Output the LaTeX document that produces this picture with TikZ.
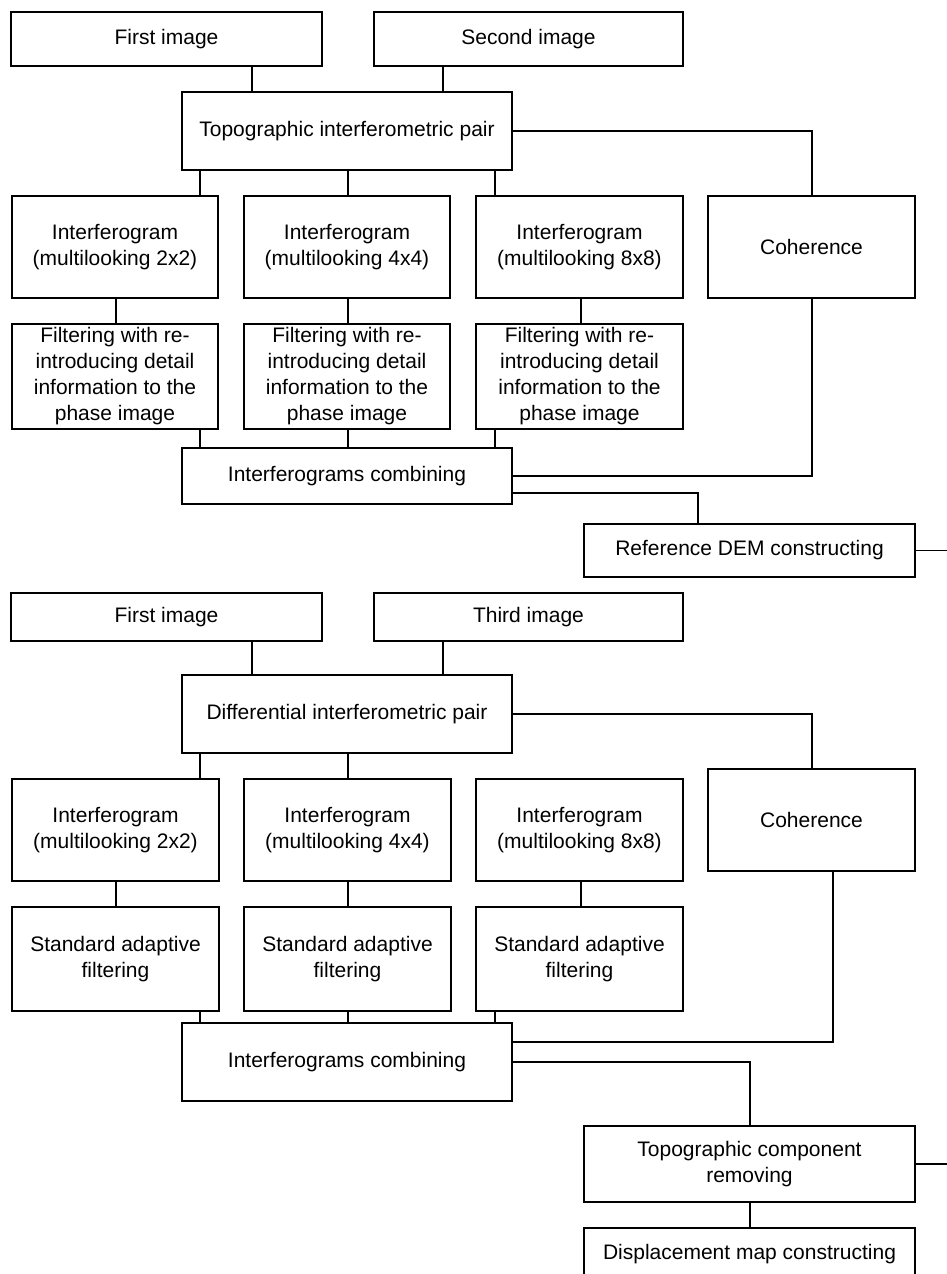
\documentclass[tikz,border=0pt]{standalone}
\usepackage{fontspec}
\setmainfont{Liberation Sans}
\begin{document}
\begin{tikzpicture}[x=1pt,y=-1pt,
  box/.style={draw, line width=1.5pt, align=center, inner sep=1pt,
    font=\fontsize{21}{26}\selectfont},
  conn/.style={line width=1.4pt}]
\useasboundingbox (0,0) rectangle (947,1274);
\fill[white] (0,0) rectangle (947,1274);

% column / row helper coordinates
\coordinate (xL) at (252,0);
\coordinate (xR) at (443,0);
\coordinate (xA) at (200,0);
\coordinate (xB) at (348,0);
\coordinate (xC) at (495,0);
\coordinate (xF1) at (116,0);
\coordinate (xF3) at (581,0);
\coordinate (xCoh) at (812,0);
\coordinate (xCohB) at (833,0);
\coordinate (xDem) at (698,0);
\coordinate (xTopo) at (750,0);
\coordinate (xEdge) at (947,0);
\coordinate (y493) at (0,493);
\coordinate (y1042) at (0,1042);

% ---------- section 1 ----------
\node[box, minimum width=311pt, minimum height=54pt] (img1) at (166.5,39) {First image};
\node[box, minimum width=309pt, minimum height=54pt] (img2) at (528.5,39) {Second image};
\node[box, minimum width=330pt, minimum height=78pt] (pair1) at (347,131) {Topographic interferometric pair};
\node[box, minimum width=206pt, minimum height=102pt] (ig1a) at (115,247) {Interferogram\\(multilooking 2x2)};
\node[box, minimum width=206pt, minimum height=102pt] (ig1b) at (347,247) {Interferogram\\(multilooking 4x4)};
\node[box, minimum width=207pt, minimum height=102pt] (ig1c) at (579.5,247) {Interferogram\\(multilooking 8x8)};
\node[box, minimum width=207pt, minimum height=102pt] (coh1) at (811.5,247) {Coherence};
\node[box, minimum width=206pt, minimum height=105pt] (f1a) at (115,376.5) {Filtering with re-\\introducing detail\\information to the\\phase image};
\node[box, minimum width=206pt, minimum height=105pt] (f1b) at (347,376.5) {Filtering with re-\\introducing detail\\information to the\\phase image};
\node[box, minimum width=207pt, minimum height=105pt] (f1c) at (579.5,376.5) {Filtering with re-\\introducing detail\\information to the\\phase image};
\node[box, minimum width=330pt, minimum height=56pt] (comb1) at (347,476) {Interferograms combining};
\node[box, minimum width=331pt, minimum height=53pt] (dem) at (749.5,550.5) {Reference DEM constructing};

\draw[conn] (img1.south -| xL) -- (pair1.north -| xL);
\draw[conn] (img2.south -| xR) -- (pair1.north -| xR);
\draw[conn] (pair1.east) -| (coh1.north -| xCoh);
\draw[conn] (pair1.south -| xA) -- (ig1a.north -| xA);
\draw[conn] (pair1.south -| xB) -- (ig1b.north -| xB);
\draw[conn] (pair1.south -| xC) -- (ig1c.north -| xC);
\draw[conn] (ig1a.south -| xF1) -- (f1a.north -| xF1);
\draw[conn] (ig1b.south -| xB) -- (f1b.north -| xB);
\draw[conn] (ig1c.south -| xF3) -- (f1c.north -| xF3);
\draw[conn] (f1a.south -| xA) -- (comb1.north -| xA);
\draw[conn] (f1b.south -| xB) -- (comb1.north -| xB);
\draw[conn] (f1c.south -| xC) -- (comb1.north -| xC);
\draw[conn] (coh1.south -| xCoh) |- (comb1.east);
\draw[conn] (comb1.east |- y493) -| (dem.north -| xDem);
\draw[conn] (dem.east) -- (dem.east -| xEdge);

% ---------- section 2 ----------
\node[box, minimum width=311pt, minimum height=48pt] (img3) at (166.5,617) {First image};
\node[box, minimum width=309pt, minimum height=48pt] (img4) at (528.5,617) {Third image};
\node[box, minimum width=330pt, minimum height=78pt] (pair2) at (347,714) {Differential interferometric pair};
\node[box, minimum width=207pt, minimum height=102pt] (ig2a) at (115.5,830) {Interferogram\\(multilooking 2x2)};
\node[box, minimum width=207pt, minimum height=102pt] (ig2b) at (347.5,830) {Interferogram\\(multilooking 4x4)};
\node[box, minimum width=207pt, minimum height=102pt] (ig2c) at (579.5,830) {Interferogram\\(multilooking 8x8)};
\node[box, minimum width=207pt, minimum height=102pt] (coh2) at (811.5,820) {Coherence};
\node[box, minimum width=207pt, minimum height=104pt] (s2a) at (115.5,959) {Standard adaptive\\filtering};
\node[box, minimum width=207pt, minimum height=104pt] (s2b) at (347.5,959) {Standard adaptive\\filtering};
\node[box, minimum width=207pt, minimum height=104pt] (s2c) at (579.5,959) {Standard adaptive\\filtering};
\node[box, minimum width=330pt, minimum height=78pt] (comb2) at (347,1062) {Interferograms combining};
\node[box, minimum width=331pt, minimum height=76pt] (topo) at (749.5,1164) {Topographic component\\removing};
\node[box, minimum width=331pt, minimum height=52pt] (disp) at (749.5,1254) {Displacement map constructing};

\draw[conn] (img3.south -| xL) -- (pair2.north -| xL);
\draw[conn] (img4.south -| xR) -- (pair2.north -| xR);
\draw[conn] (pair2.east) -| (coh2.north -| xCoh);
\draw[conn] (pair2.south -| xA) -- (ig2a.north -| xA);
\draw[conn] (pair2.south -| xB) -- (ig2b.north -| xB);
\draw[conn] (ig2a.south -| xF1) -- (s2a.north -| xF1);
\draw[conn] (ig2b.south -| xB) -- (s2b.north -| xB);
\draw[conn] (ig2c.south -| xF3) -- (s2c.north -| xF3);
\draw[conn] (s2a.south -| xA) -- (comb2.north -| xA);
\draw[conn] (s2b.south -| xB) -- (comb2.north -| xB);
\draw[conn] (s2c.south -| xC) -- (comb2.north -| xC);
\draw[conn] (coh2.south -| xCohB) |- (comb2.east |- y1042);
\draw[conn] (comb2.east) -| (topo.north -| xTopo);
\draw[conn] (topo.east) -- (topo.east -| xEdge);
\draw[conn] (topo.south -| xTopo) -- (disp.north -| xTopo);
\end{tikzpicture}
\end{document}
